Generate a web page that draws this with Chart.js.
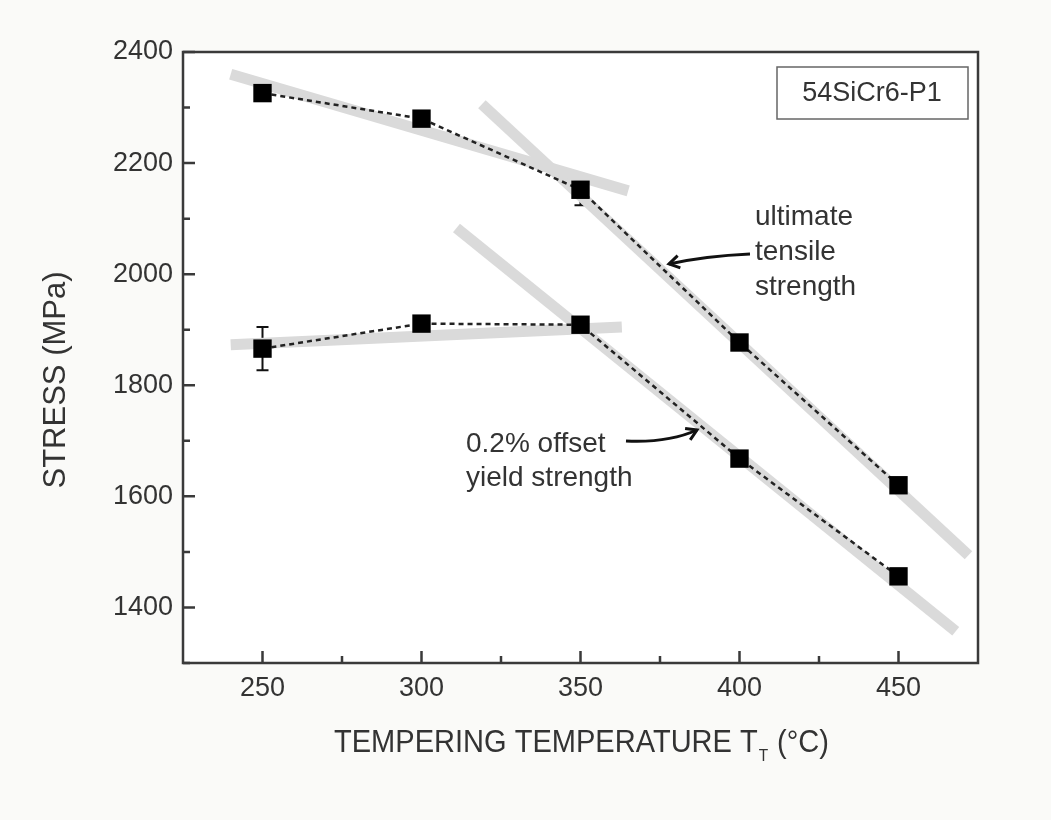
<!DOCTYPE html>
<html>
<head>
<meta charset="utf-8">
<script src="https://cdn.jsdelivr.net/npm/chart.js@4.4.1/dist/chart.umd.min.js"></script>
<style>
  html, body { margin: 0; padding: 0; background: #fafaf8; }
  #wrap { width: 1051px; height: 820px; }
</style>
</head>
<body>
<div id="wrap"><canvas id="chart" width="1051" height="820"></canvas></div>
<script>
// tempering temperatures (°C)
const temps = [250, 300, 350, 400, 450];
// ultimate tensile strength (MPa)
const utsValues = [2326, 2280, 2152, 1877, 1620];
const utsErr = [0, 0, 28, 0, 0];
// 0.2% offset yield strength (MPa)
const ysValues = [1866, 1911, 1909, 1668, 1456];
const ysErr = [39, 0, 0, 0, 0];

// grey trend lines (two segments per curve)
const utsFitLow = [[240, 2360], [365, 2150]];
const utsFitHigh = [[319, 2306], [472, 1494]];
const ysFitLow = [[240, 1873], [363, 1905]];
const ysFitHigh = [[311, 2083], [468, 1357]];

const xTicks = [250, 300, 350, 400, 450];
const xMinor = [275, 325, 375, 425];
const yTicks = [1400, 1600, 1800, 2000, 2200, 2400];
const yMinor = [1300, 1500, 1700, 1900, 2100, 2300];

const FONT = '"Liberation Sans", Arial, sans-serif';
const TXT = '#333333';

function pts(arr) { return arr.map(p => ({ x: p[0], y: p[1] })); }
function series(ys) { return temps.map((t, i) => ({ x: t, y: ys[i] })); }

function fitSet(arr) {
    return {
        data: pts(arr),
        borderColor: '#dadada',
        borderWidth: 11,
        borderCapStyle: 'butt',
        pointRadius: 0,
        showLine: true,
        order: 2
    };
}
function dataSet(ys) {
    return {
        data: series(ys),
        borderColor: '#222222',
        borderWidth: 2.5,
        borderDash: [5, 4],
        pointStyle: 'rect',
        pointRadius: 13,
        pointBackgroundColor: '#000000',
        pointBorderColor: '#000000',
        pointBorderWidth: 0,
        showLine: true,
        order: 0
    };
}

const decor = {
    id: 'decor',
    beforeDatasetsDraw(chart) {
        const { ctx, scales: { x, y } } = chart;
        ctx.save();
        ctx.strokeStyle = '#111';
        ctx.lineWidth = 2;
        const bars = (ys, errs) => {
            temps.forEach((t, i) => {
                if (!errs[i]) return;
                const px = x.getPixelForValue(t);
                const top = y.getPixelForValue(ys[i] + errs[i]);
                const bot = y.getPixelForValue(ys[i] - errs[i]);
                ctx.beginPath();
                ctx.moveTo(px, top); ctx.lineTo(px, bot);
                ctx.moveTo(px - 6, top); ctx.lineTo(px + 6, top);
                ctx.moveTo(px - 6, bot); ctx.lineTo(px + 6, bot);
                ctx.stroke();
            });
        };
        bars(utsValues, utsErr);
        bars(ysValues, ysErr);
        ctx.restore();
    },
    afterDraw(chart) {
        const { ctx, chartArea: a, scales: { x, y } } = chart;
        ctx.save();
        // frame
        ctx.strokeStyle = '#3a3a3a';
        ctx.lineWidth = 2.5;
        ctx.strokeRect(a.left, a.top, a.right - a.left, a.bottom - a.top);
        // inward ticks
        ctx.beginPath();
        xTicks.forEach(v => { const p = x.getPixelForValue(v); ctx.moveTo(p, a.bottom); ctx.lineTo(p, a.bottom - 12); });
        xMinor.forEach(v => { const p = x.getPixelForValue(v); ctx.moveTo(p, a.bottom); ctx.lineTo(p, a.bottom - 7); });
        yTicks.forEach(v => { const p = y.getPixelForValue(v); ctx.moveTo(a.left, p); ctx.lineTo(a.left + 12, p); });
        yMinor.forEach(v => { const p = y.getPixelForValue(v); ctx.moveTo(a.left, p); ctx.lineTo(a.left + 7, p); });
        ctx.stroke();

        // tick labels
        ctx.fillStyle = TXT;
        ctx.font = '27px ' + FONT;
        ctx.textAlign = 'center';
        ctx.textBaseline = 'middle';
        xTicks.forEach(v => ctx.fillText(String(v), x.getPixelForValue(v), a.bottom + 26));
        ctx.textAlign = 'right';
        yTicks.forEach(v => ctx.fillText(String(v), a.left - 10, y.getPixelForValue(v)));

        // x axis title with subscript, squeezed to the reference width
        ctx.textAlign = 'left';
        ctx.textBaseline = 'alphabetic';
        const main = 'TEMPERING TEMPERATURE T';
        const tail = ' (°C)';
        ctx.font = '32px ' + FONT;
        const w1 = ctx.measureText(main).width;
        const w2 = ctx.measureText(tail).width;
        ctx.font = '17px ' + FONT;
        const ws = ctx.measureText('T').width + 2;
        const total = w1 + ws + w2;
        const sc = 495 / total;
        ctx.save();
        ctx.translate(334, 752);
        ctx.scale(sc, 1);
        ctx.font = '32px ' + FONT;
        ctx.fillText(main, 0, 0);
        ctx.font = '17px ' + FONT;
        ctx.fillText('T', w1 + 1, 9);
        ctx.font = '32px ' + FONT;
        ctx.fillText(tail, w1 + ws, 0);
        ctx.restore();

        // y axis title
        ctx.save();
        ctx.translate(65, 380);
        ctx.rotate(-Math.PI / 2);
        ctx.textAlign = 'center';
        ctx.font = '31px ' + FONT;
        ctx.fillText('STRESS (MPa)', 0, 0);
        ctx.restore();

        // sample label box
        ctx.strokeStyle = '#666';
        ctx.lineWidth = 1.5;
        ctx.strokeRect(777, 67, 191, 52);
        ctx.font = '27px ' + FONT;
        ctx.textAlign = 'center';
        ctx.textBaseline = 'middle';
        ctx.fillText('54SiCr6-P1', 872, 94);

        // curve labels
        ctx.textAlign = 'left';
        ctx.textBaseline = 'alphabetic';
        ctx.font = '28px ' + FONT;
        ['ultimate', 'tensile', 'strength'].forEach((s, i) => ctx.fillText(s, 755, 225 + i * 35));
        ctx.fillText('0.2% offset', 466, 452);
        ctx.fillText('yield strength', 466, 486);

        // arrows
        const arrow = (x0, y0, cx, cy, x1, y1) => {
            ctx.strokeStyle = '#111';
            ctx.lineWidth = 3;
            ctx.beginPath();
            ctx.moveTo(x0, y0);
            ctx.quadraticCurveTo(cx, cy, x1, y1);
            ctx.stroke();
            const ang = Math.atan2(y1 - cy, x1 - cx);
            const L = 12;
            ctx.beginPath();
            ctx.moveTo(x1 - L * Math.cos(ang - 0.55), y1 - L * Math.sin(ang - 0.55));
            ctx.lineTo(x1, y1);
            ctx.lineTo(x1 - L * Math.cos(ang + 0.55), y1 - L * Math.sin(ang + 0.55));
            ctx.stroke();
        };
        arrow(750, 254, 705, 256, 669, 264);
        arrow(626, 441, 668, 443, 697, 430);

        ctx.restore();
    }
};

const bgPlugin = {
    id: 'bg',
    beforeDraw(chart) {
        const { ctx, chartArea: a } = chart;
        ctx.save();
        ctx.fillStyle = '#fafaf8';
        ctx.fillRect(0, 0, chart.width, chart.height);
        ctx.fillStyle = '#ffffff';
        ctx.fillRect(a.left, a.top, a.right - a.left, a.bottom - a.top);
        ctx.restore();
    }
};

new Chart(document.getElementById('chart'), {
    type: 'scatter',
    data: {
        datasets: [
            dataSet(utsValues),
            dataSet(ysValues),
            fitSet(utsFitLow),
            fitSet(utsFitHigh),
            fitSet(ysFitLow),
            fitSet(ysFitHigh)
        ]
    },
    options: {
        responsive: false,
        animation: false,
        layout: { padding: { left: 0, top: 52, right: 73, bottom: 0 } },
        plugins: { legend: { display: false }, tooltip: { enabled: false } },
        scales: {
            x: {
                type: 'linear', min: 225, max: 475,
                grid: { display: false }, border: { display: false },
                ticks: { display: false },
                afterFit: s => { s.height = 157; }
            },
            y: {
                type: 'linear', min: 1300, max: 2400,
                grid: { display: false }, border: { display: false },
                ticks: { display: false },
                afterFit: s => { s.width = 183; }
            }
        }
    },
    plugins: [bgPlugin, decor]
});
</script>
</body>
</html>
